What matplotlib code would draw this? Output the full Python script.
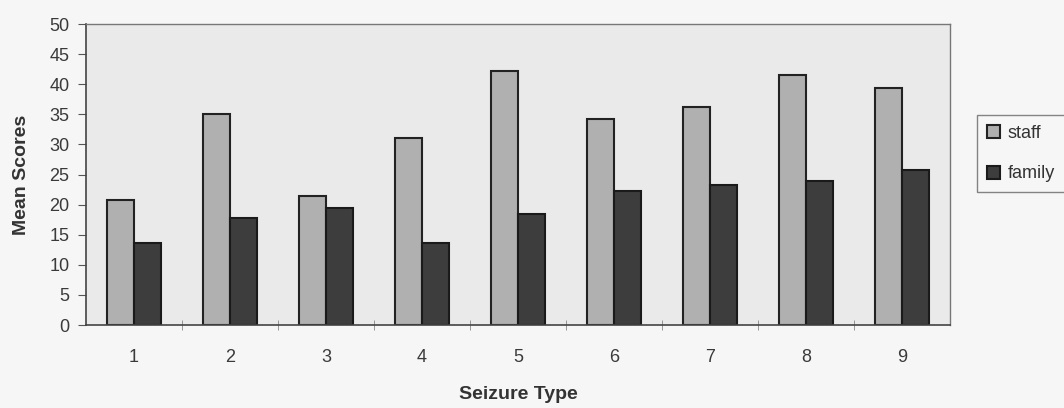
import matplotlib
matplotlib.use("Agg")
import matplotlib.pyplot as plt
import numpy as np

plt.rcParams['font.family'] = ['Liberation Sans', 'DejaVu Sans']

categories = ["1", "2", "3", "4", "5", "6", "7", "8", "9"]
staff = [20.8, 35.1, 21.5, 31.1, 42.2, 34.2, 36.2, 41.6, 39.3]
family = [13.7, 17.8, 19.5, 13.7, 18.5, 22.3, 23.2, 23.9, 25.7]
series_names = ["staff", "family"]

fig = plt.figure(figsize=(10.64, 4.08), dpi=100, facecolor='#f6f6f6')
ax = fig.add_axes([0.0808, 0.2034, 0.8122, 0.7376])
ax.set_facecolor('#eaeaea')

x = np.arange(1, len(categories) + 1)
w = 0.28
ax.bar(x - w / 2, staff, width=w, color='#b0b0b0', edgecolor='#222222', linewidth=1.5, label=series_names[0])
ax.bar(x + w / 2, family, width=w, color='#3d3d3d', edgecolor='#1a1a1a', linewidth=1.5, label=series_names[1])

ax.set_xlim(0.5, len(categories) + 0.5)
ax.set_ylim(0, 50)
ax.set_yticks(np.arange(0, 51, 5))
ax.set_yticklabels([str(v) for v in range(0, 51, 5)], fontsize=13, color='#3a3a3a')
ax.set_xticks(x)
ax.set_xticklabels(categories, fontsize=13, color='#3a3a3a')
ax.tick_params(axis='x', length=0, pad=17)
ax.set_xticks(np.arange(1.5, len(categories), 1), minor=True)
ax.tick_params(axis='x', which='minor', direction='inout', length=7, color='#888888')
ax.tick_params(axis='y', direction='out', length=6, color='#555555', pad=6)

for s in ['left', 'bottom']:
    ax.spines[s].set_color('#444444')
    ax.spines[s].set_linewidth(1.2)
for s in ['top', 'right']:
    ax.spines[s].set_color('#777777')
    ax.spines[s].set_linewidth(1.0)

ax.set_ylabel("Mean Scores", fontsize=14, fontweight='bold', color='#333333', labelpad=14)
ax.set_xlabel("Seizure Type", fontsize=14, fontweight='bold', color='#333333', labelpad=15)

leg = fig.legend(loc='upper left', bbox_to_anchor=(0.918, 0.718), fontsize=13,
                 frameon=True, fancybox=False, edgecolor='#666666', facecolor='#f6f6f6',
                 handlelength=0.75, handleheight=0.75, handletextpad=0.4, borderpad=0.55,
                 labelspacing=1.3, borderaxespad=0)
for t in leg.get_texts():
    t.set_color('#333333')

fig.savefig("out.png", dpi=100, facecolor=fig.get_facecolor())
